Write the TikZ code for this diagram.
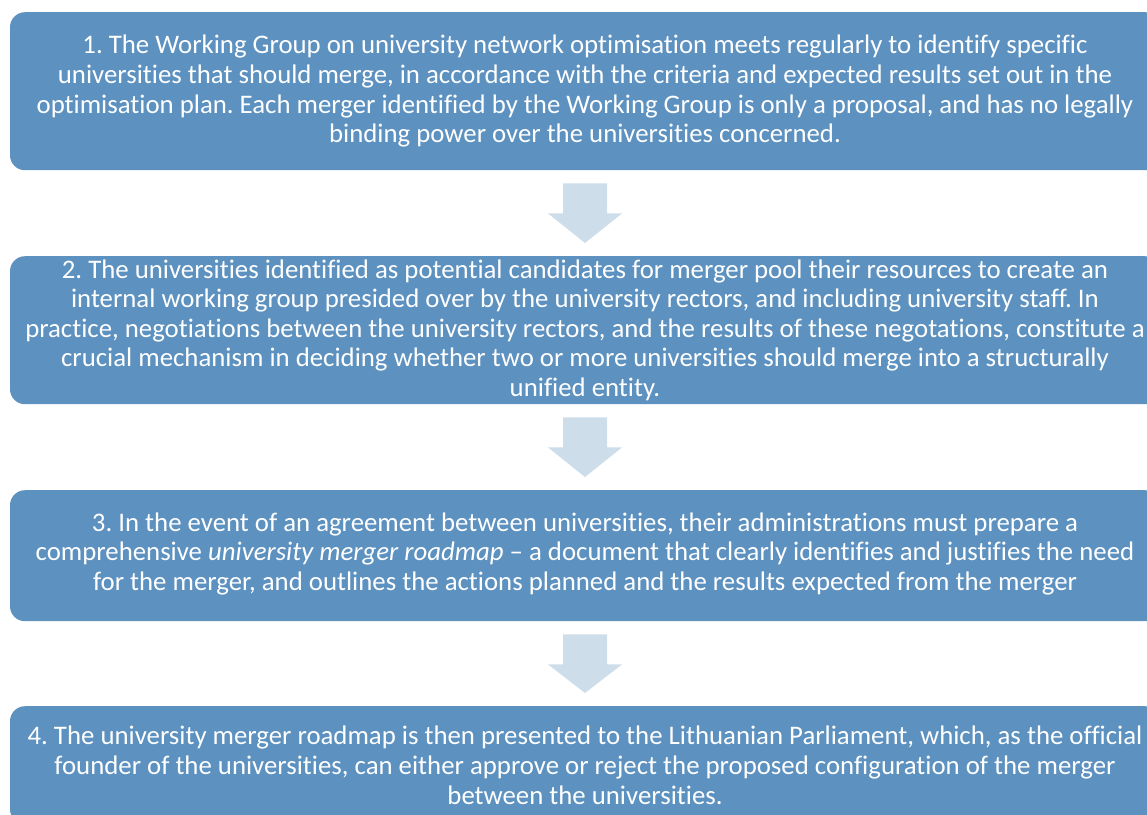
\documentclass[tikz,border=0pt]{standalone}
\usepackage{fontspec}
\setmainfont{Carlito}[Ligatures=NoCommon]
\usetikzlibrary{calc}
\definecolor{stepblue}{RGB}{92,145,192}
\definecolor{arrowpale}{RGB}{205,221,233}
\tikzset{
  stepbox/.style={draw=none, fill=stepblue, rounded corners=15pt,
    minimum width=1150pt, inner sep=0pt, anchor=north},
  steptext/.style={text=white, align=center, inner sep=0pt,
    font=\fontsize{26.8}{29.6}\selectfont\frenchspacing},
  arrowshape/.style={fill=arrowpale, draw=none}
}
% block arrow pointing down from one box to the next
\newcommand\flowarrow[2]{%
  \fill[arrowshape] ($(#1.south)+(-22,13)$) -- ($(#1.south)+(22,13)$)
    -- ($(#1.south)+(22,43)$) -- ($(#1.south)+(37,43)$)
    -- ($(#2.north)+(0,-13)$)
    -- ($(#1.south)+(-37,43)$) -- ($(#1.south)+(-22,43)$) -- cycle;}
\begin{document}
\begin{tikzpicture}[x=1pt,y=-1pt]
\useasboundingbox (0,0) rectangle (1147,814);
\clip (0,0) rectangle (1147,814);

\node[stepbox, minimum height=158pt] (b1) at (585,12) {};
\node[stepbox, minimum height=148pt] (b2) at (585,256) {};
\node[stepbox, minimum height=131pt] (b3) at (585,490) {};
\node[stepbox, minimum height=118pt] (b4) at (585,706) {};

\node[steptext] (t1) at (b1.center) {1. The Working Group on university network optimisation meets regularly to identify specific\\
universities that should merge, in accordance with the criteria and expected results set out in the\\
optimisation plan. Each merger identified by the Working Group is only a proposal, and has no legally\\
binding power over the universities concerned.};

\node[steptext] (t2) at (b2.center) {2. The universities identified as potential candidates for merger pool their resources to create an\\
internal working group presided over by the university rectors, and including university staff. In\\
practice, negotiations between the university rectors, and the results of these negotations, constitute a\\
crucial mechanism in deciding whether two or more universities should merge into a structurally\\
unified entity.};

\node[steptext] (t3) at ($(b3.center)+(0,-2)$) {3. In the event of an agreement between universities, their administrations must prepare a\\
comprehensive \textit{university merger roadmap} – a document that clearly identifies and justifies the need\\
for the merger, and outlines the actions planned and the results expected from the merger};

\node[steptext] (t4) at (b4.center) {4. The university merger roadmap is then presented to the Lithuanian Parliament, which, as the official\\
founder of the universities, can either approve or reject the proposed configuration of the merger\\
between the universities.};

\flowarrow{b1}{b2}
\flowarrow{b2}{b3}
\flowarrow{b3}{b4}
\end{tikzpicture}
\end{document}
